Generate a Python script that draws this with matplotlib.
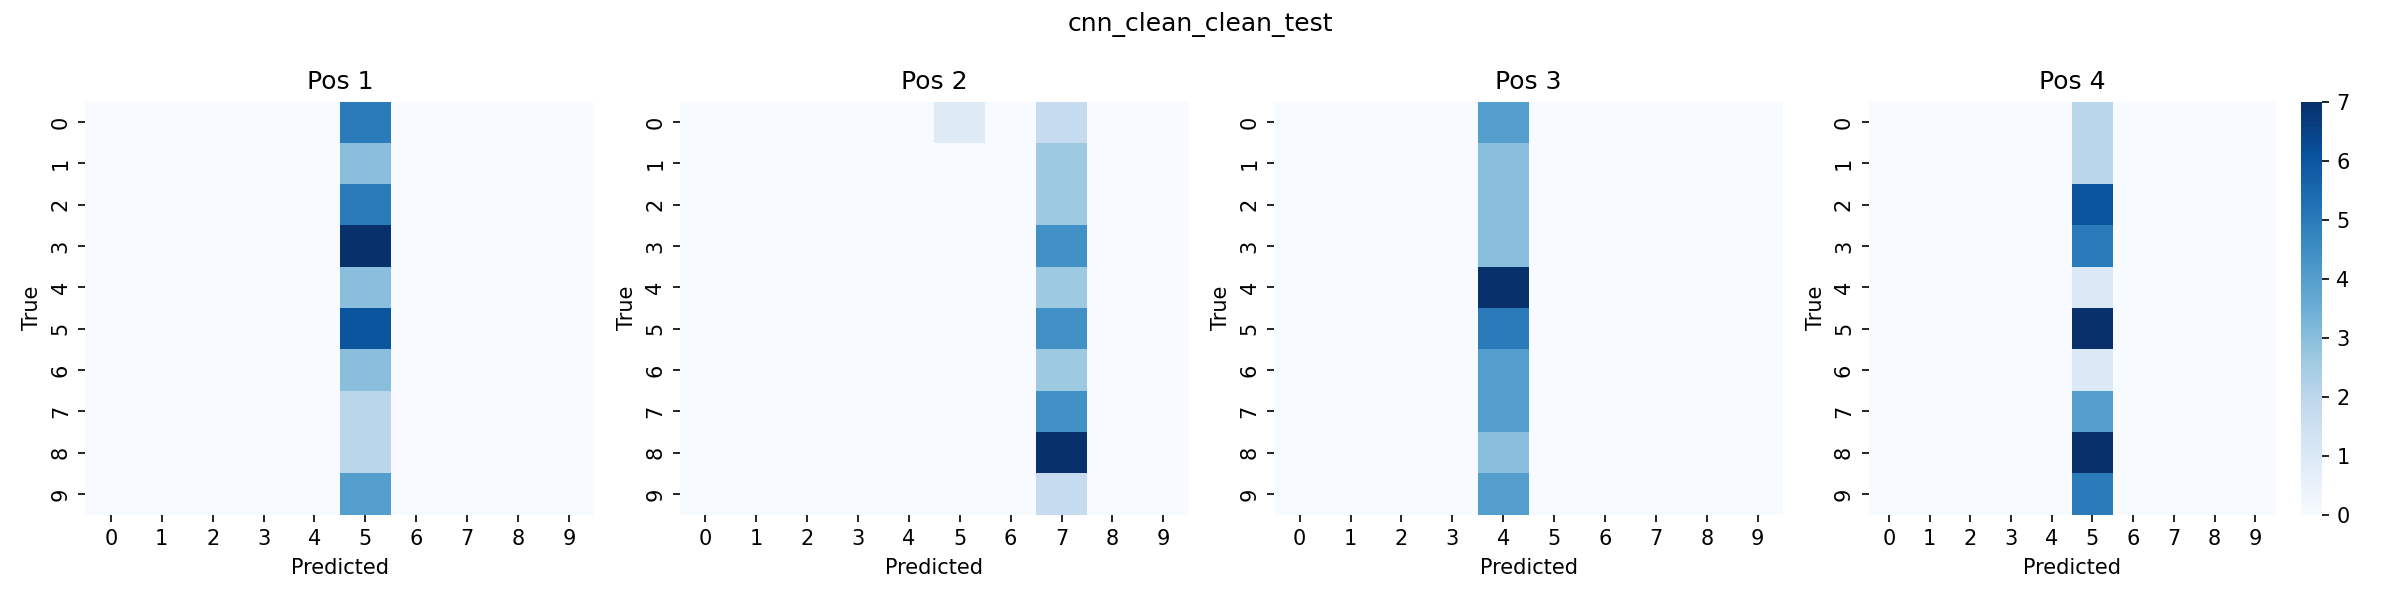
import numpy as np
import matplotlib
matplotlib.use('Agg')
from matplotlib import pyplot as plt
import seaborn as sns

labels = list(range(10))
titles = ['Pos 1', 'Pos 2', 'Pos 3', 'Pos 4']

# 每个位置的预测几乎都落在一列上 (true 0-9)
pos1_col5 = [5, 3, 5, 7, 3, 6, 3, 2, 2, 4]
pos2_col5 = [1, 0, 0, 0, 0, 0, 0, 0, 0, 0]
pos2_col7 = [2, 3, 3, 5, 3, 5, 3, 5, 8, 2]
pos3_col4 = [4, 3, 3, 3, 7, 5, 4, 4, 3, 4]
pos4_col5 = [2, 2, 6, 5, 1, 7, 1, 4, 7, 5]


def build_cm(cols):
    cm = np.zeros((10, 10), dtype=int)
    for c, vals in cols.items():
        cm[:, c] = vals
    return cm


mats = [
    build_cm({5: pos1_col5}),
    build_cm({5: pos2_col5, 7: pos2_col7}),
    build_cm({4: pos3_col4}),
    build_cm({5: pos4_col5}),
]

fig, axes = plt.subplots(1, 4, figsize=(16, 4), dpi=150)
for i, (ax, cm) in enumerate(zip(axes, mats)):
    sns.heatmap(cm, ax=ax, cmap='Blues', cbar=(i == 3),
                xticklabels=labels, yticklabels=labels)
    ax.set_title(titles[i], fontsize=12)
    ax.set_xlabel('Predicted')
    ax.set_ylabel('True')

fig.suptitle('cnn_clean_clean_test', fontsize=12)
plt.tight_layout()
plt.savefig('out.png')
